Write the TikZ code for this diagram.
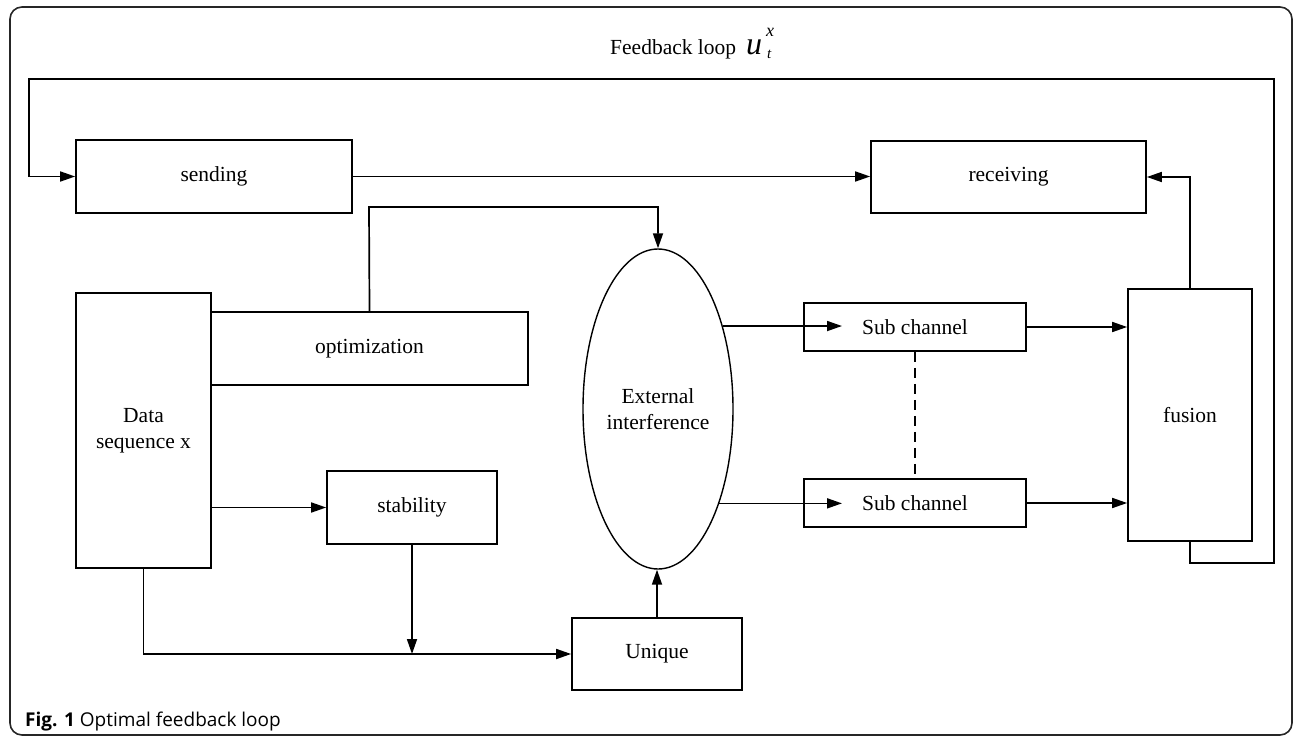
\documentclass[tikz,border=0pt]{standalone}
\usepackage{fontspec}
\setmainfont{Liberation Serif}
\newfontfamily\capfont{Open Sans}
\usetikzlibrary{shapes.geometric,arrows.meta,calc}
\begin{document}
\begin{tikzpicture}[x=1pt,y=-1pt,
  every node/.style={font=\fontsize{21.5}{25}\selectfont},
  box/.style={draw,line width=1.7pt,inner sep=0pt,align=center},
  con/.style={line width=1.7pt},
  arr/.style={con,-{Triangle[length=15pt,width=10pt]}},
  dashline/.style={con,dash pattern=on 10pt off 6pt}]
\useasboundingbox (0,0) rectangle (1295,738);
\draw[line width=1.6pt,color=black!85,rounded corners=12pt] (10,7) rectangle (1292,735);
% title
\node[anchor=base west,inner sep=0pt] (ttl) at (610,55) {Feedback loop};
\node[anchor=base west,inner sep=0pt,font=\fontsize{32}{32}\selectfont\itshape] (tu) at (746,55) {u};
\node[anchor=base west,inner sep=0pt,font=\fontsize{18}{18}\selectfont\itshape] (tx) at (766,37) {x};
\node[anchor=base west,inner sep=0pt,font=\fontsize{15}{15}\selectfont\itshape] (tt) at (767,59) {t};
% boxes
\node[box,minimum width=276pt,minimum height=73pt] (send) at (214,176.5) {sending};
\node[box,minimum width=275pt,minimum height=72pt] (recv) at (1008.5,177) {receiving};
\node[box,minimum width=135pt,minimum height=275pt] (data) at (143.5,430.5) {Data\\[1pt]sequence x};
\node[box,minimum width=317pt,minimum height=73pt] (opt) at (369.5,348.5) {optimization};
\node[box,minimum width=170pt,minimum height=73pt] (stab) at (412,507.5) {stability};
\node[box,minimum width=170pt,minimum height=72pt] (uniq) at (657,654) {Unique};
\node[box,minimum width=222pt,minimum height=48pt] (sca) at (915,327) {Sub channel};
\node[box,minimum width=222pt,minimum height=48pt] (scb) at (915,503) {Sub channel};
\node[box,minimum width=124pt,minimum height=252pt] (fus) at (1190,415) {fusion};
\node[draw,ellipse,line width=1.4pt,inner sep=0pt,minimum width=150pt,minimum height=320pt,align=center] (ell) at (658,409) {External\\[1pt]interference};
% coordinates
\coordinate (fbA) at (1274,563);
\coordinate (fbB) at (1274,79);
\coordinate (fbC) at (29,79);
\coordinate (optB) at (369,207);
\coordinate (ta) at (842,327);
\coordinate (tb) at (842,503);
% connectors
\draw[arr] (fus.south) |- (fbA) -- (fbB) -- (fbC) |- (send.west);
\draw[arr] (send.east) -- (send.east -| recv.west);
\draw[arr] (fus.north) |- (recv.east);
\draw[arr] (opt.north) -- (optB) -| (ell.north);
\draw[arr] (data.east |- stab.west) -- (stab.west);
\draw[arr] (data.south) |- (uniq.west);
\draw[arr] (stab.south) -- (stab.south |- uniq.west);
\draw[arr] (uniq.north) -- (uniq.north |- ell.south);
\draw[arr] (ell.52) -- (ell.52 -| ta);
\draw[arr] (ell.-57) -- (ell.-57 -| tb);
\draw[arr] (sca.east) -- (sca.east -| fus.west);
\draw[arr] (scb.east) -- (scb.east -| fus.west);
\draw[dashline] (sca.south) -- (scb.north);
% caption
\node[anchor=base west,inner sep=0pt,font=\capfont\fontsize{19}{22}\selectfont] (cap) at (25,726) {\textbf{Fig. 1} Optimal feedback loop};
\end{tikzpicture}
\end{document}
